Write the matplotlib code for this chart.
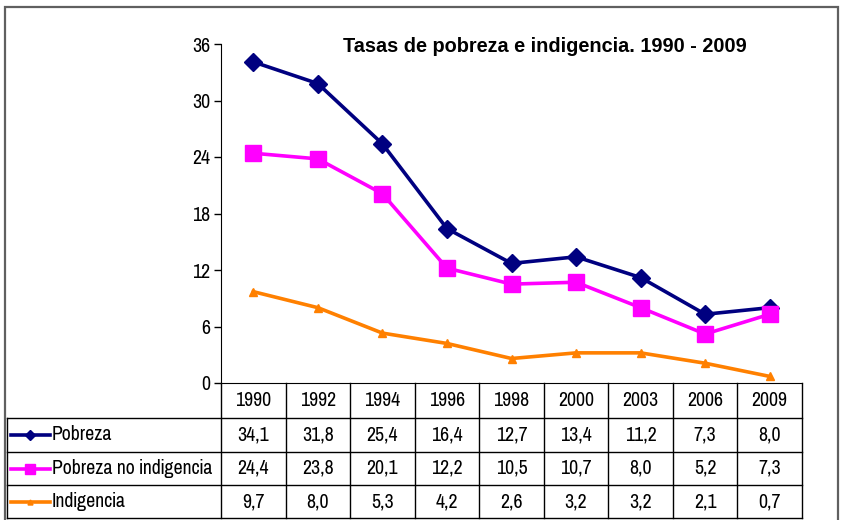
import matplotlib
matplotlib.use("Agg")
import matplotlib.pyplot as plt
from matplotlib.lines import Line2D
from matplotlib.patches import Rectangle

years = ["1990", "1992", "1994", "1996", "1998", "2000", "2003", "2006", "2009"]
pobreza = [34.1, 31.8, 25.4, 16.4, 12.7, 13.4, 11.2, 7.3, 8.0]
pobreza_no_ind = [24.4, 23.8, 20.1, 12.2, 10.5, 10.7, 8.0, 5.2, 7.3]
indigencia = [9.7, 8.0, 5.3, 4.2, 2.6, 3.2, 3.2, 2.1, 0.7]
series_names = ["Pobreza", "Pobreza no indigencia", "Indigencia"]
title = "Tasas de pobreza e indigencia. 1990 - 2009"
yticks = [0, 6, 12, 18, 24, 30, 36]

plt.rcParams['font.family'] = ['Liberation Sans Narrow', 'Arial Narrow', 'Pragati Narrow',
                               'Archivo Narrow', 'DejaVu Sans']

W, H = 841, 520
fig = plt.figure(figsize=(W / 100, H / 100), dpi=100)

def fx(px):
    return px / W

def fy(py):
    return 1 - py / H

# figure border
fig.add_artist(Rectangle((fx(5), fy(530)), fx(838) - fx(5), fy(7) - fy(530),
                         transform=fig.transFigure, fill=False, edgecolor="#606060", lw=1.6))

ax_l, ax_r, ax_t, ax_b = 221, 802, 44, 383
ax = fig.add_axes([fx(ax_l), fy(ax_b), fx(ax_r) - fx(ax_l), fy(ax_t) - fy(ax_b)])
ax.set_xlim(-0.5, len(years) - 0.5)
ax.set_ylim(0, 36)
ax.set_yticks(yticks)
fs_tab = 15.5
ax.set_yticklabels([str(t) for t in yticks], fontsize=fs_tab)
ax.set_xticks([])
for s in ["top", "right"]:
    ax.spines[s].set_visible(False)
ax.spines["left"].set_color("black")
ax.spines["bottom"].set_color("black")
ax.tick_params(axis="y", direction="out", length=5, width=1, pad=3)

colors = ["#000080", "#FF00FF", "#FF8000"]
markers = ["D", "s", "^"]
msizes = [9, 11, 6]
data = [pobreza, pobreza_no_ind, indigencia]
xs = list(range(len(years)))
for vals, c, m, ms in zip(data, colors, markers, msizes):
    ax.plot(xs, vals, color=c, lw=2.6, marker=m, markersize=ms,
            markerfacecolor=c, markeredgecolor=c, clip_on=False, zorder=3)

fig.text(fx(545), fy(47), title, fontsize=14.3, fontweight="bold",
         family=["Liberation Sans", "DejaVu Sans"], ha="center", va="center")

# data table
rows = [383, 418, 452, 485, 518]
col_w = (ax_r - ax_l) / len(years)
tab_left = 7
lw_t = 1.0
for r in rows[1:]:
    fig.add_artist(Line2D([fx(tab_left), fx(ax_r)], [fy(r), fy(r)], color="black", lw=lw_t,
                          transform=fig.transFigure))
for k in range(len(years) + 1):
    x = ax_l + k * col_w
    fig.add_artist(Line2D([fx(x), fx(x)], [fy(rows[0]), fy(rows[-1])], color="black", lw=lw_t,
                          transform=fig.transFigure))
fig.add_artist(Line2D([fx(tab_left), fx(tab_left)], [fy(rows[1]), fy(rows[-1])], color="black", lw=lw_t,
                      transform=fig.transFigure))

for k, yr in enumerate(years):
    cx = ax_l + (k + 0.5) * col_w
    fig.text(fx(cx), fy((rows[0] + rows[1]) / 2), yr, fontsize=fs_tab, ha="center", va="center")
for i, vals in enumerate(data):
    cy = (rows[i + 1] + rows[i + 2]) / 2
    for k, v in enumerate(vals):
        cx = ax_l + (k + 0.5) * col_w
        fig.text(fx(cx), fy(cy), f"{v:.1f}".replace(".", ","), fontsize=fs_tab, ha="center", va="center")
    fig.add_artist(Line2D([fx(11), fx(50)], [fy(cy), fy(cy)], color=colors[i], lw=2.6,
                          transform=fig.transFigure))
    fig.add_artist(Line2D([fx(30)], [fy(cy)], color=colors[i], lw=0,
                          marker=markers[i], markersize=msizes[i] * 0.6,
                          transform=fig.transFigure))
    fig.text(fx(52), fy(cy), series_names[i], fontsize=fs_tab, ha="left", va="center")

fig.savefig("out.png", dpi=100)
